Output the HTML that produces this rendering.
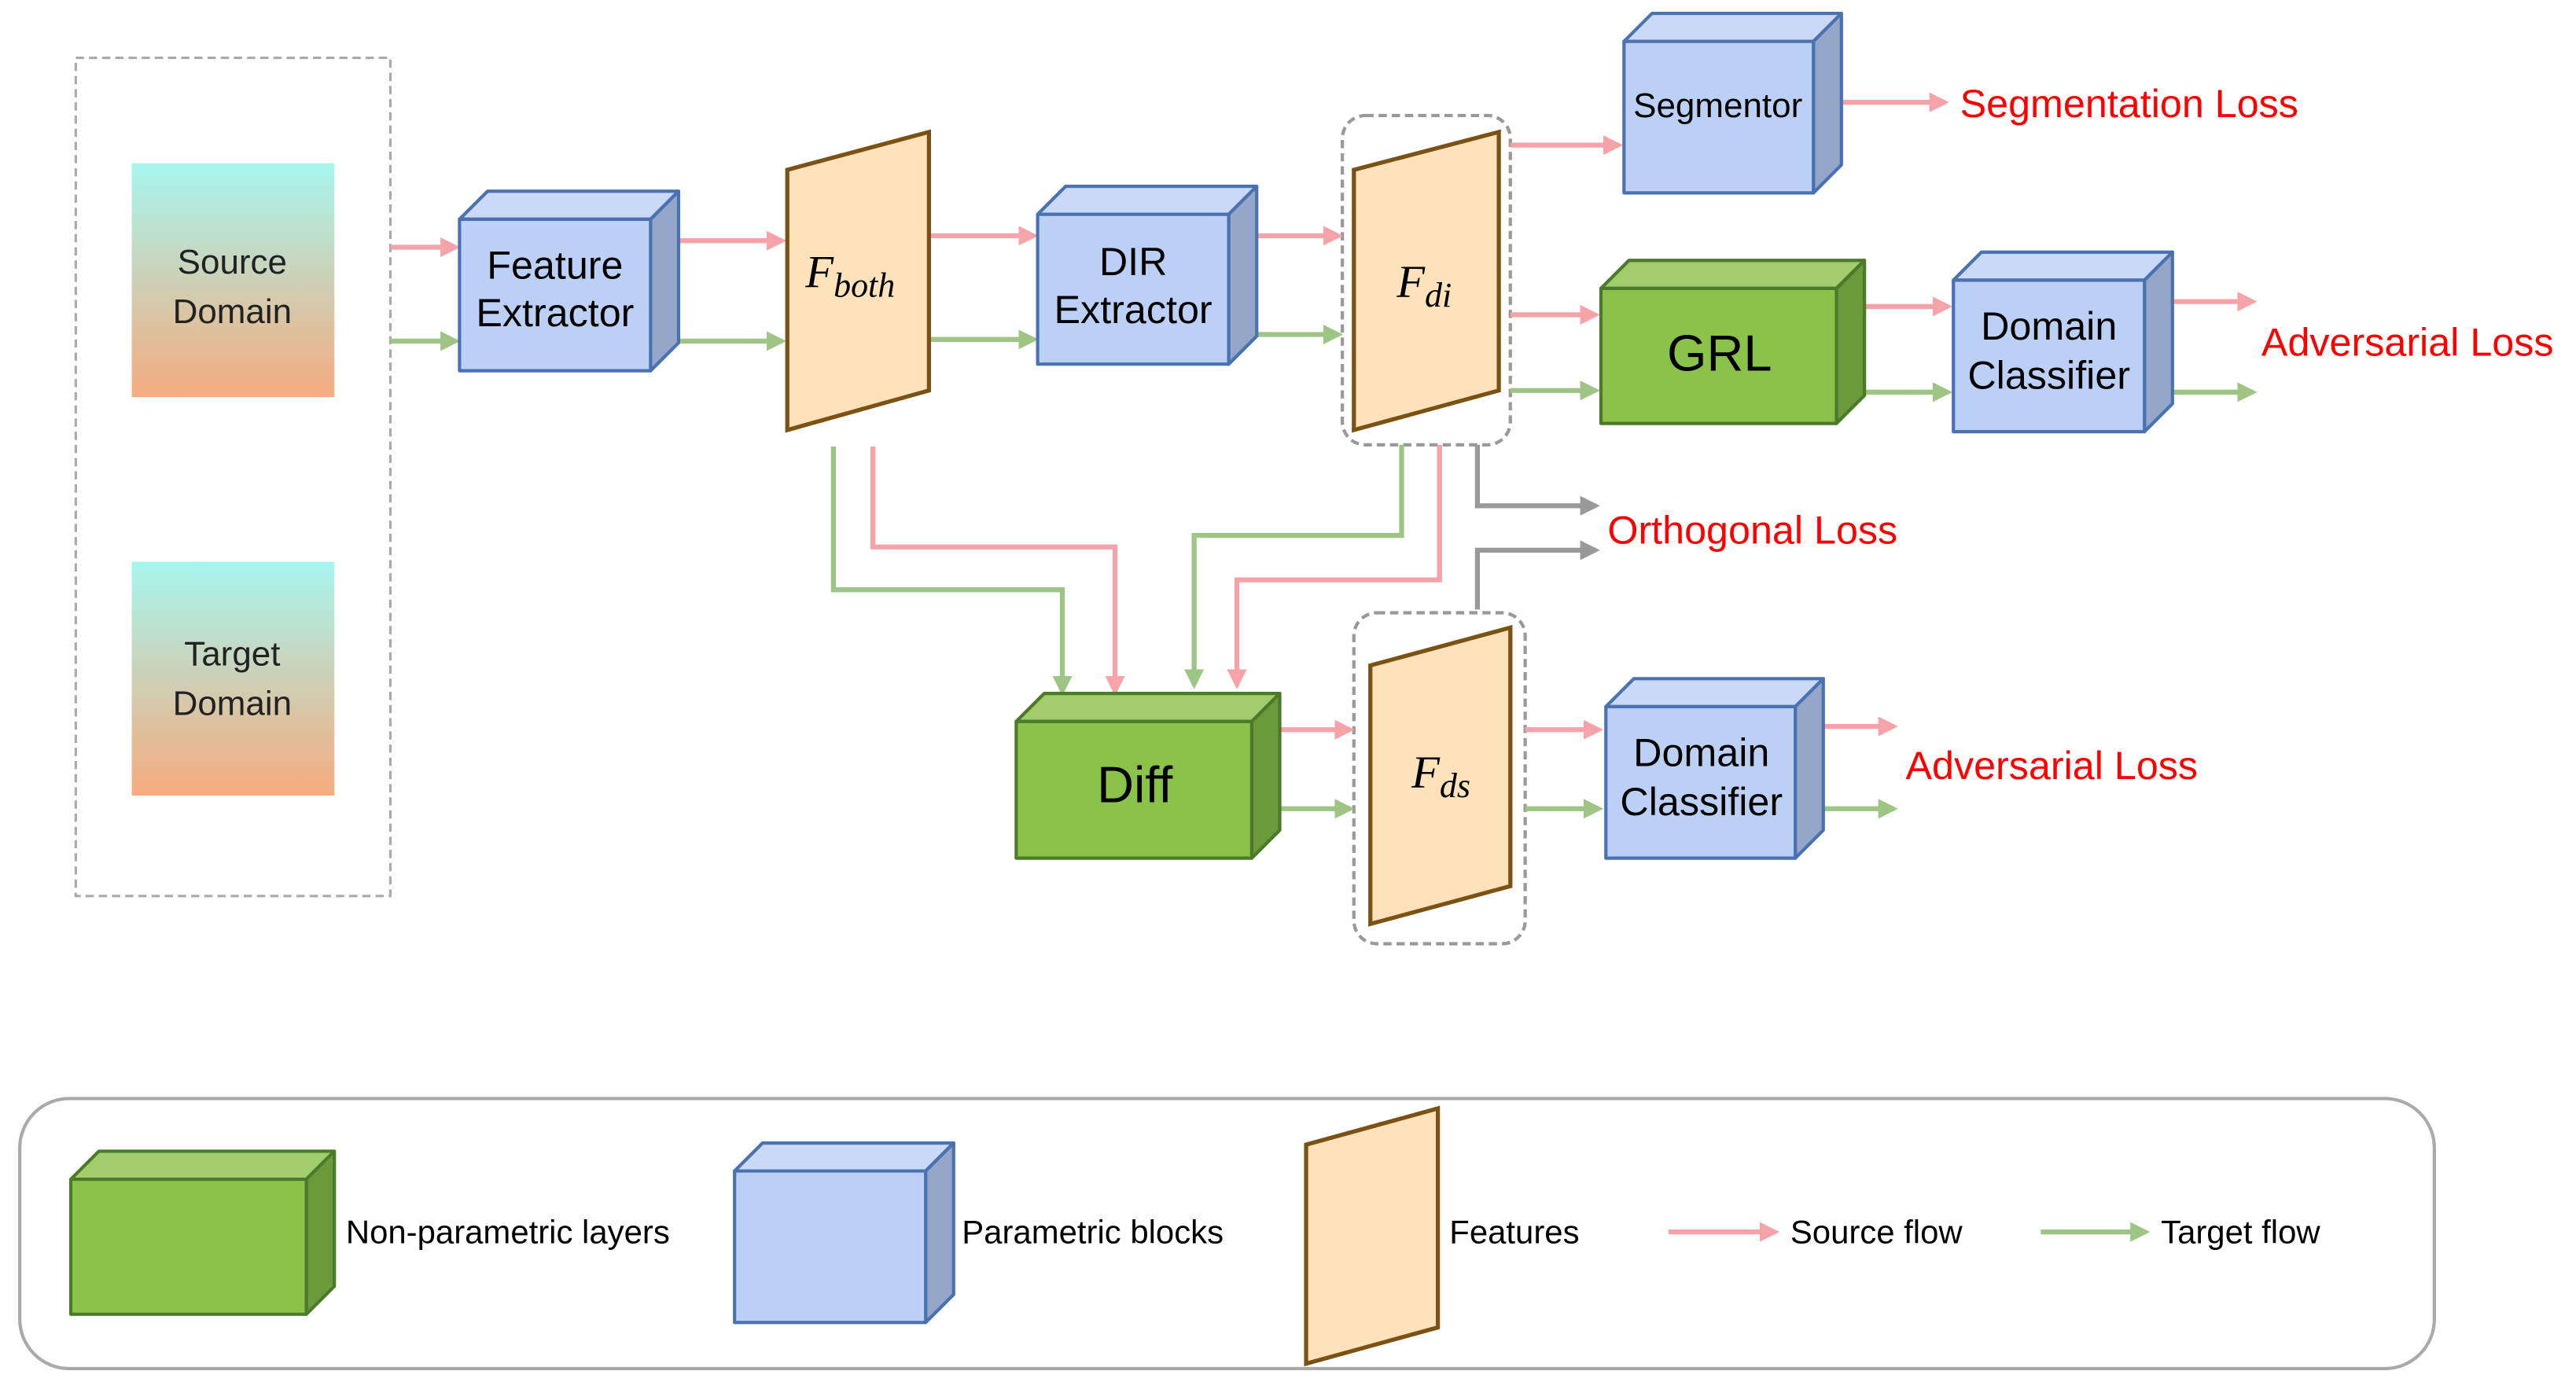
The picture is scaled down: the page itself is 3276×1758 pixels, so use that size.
<!DOCTYPE html>
<html><head><meta charset="utf-8"><style>
html,body{margin:0;padding:0;background:#fff}
svg{display:block}
text{font-family:"Liberation Sans","DejaVu Sans",sans-serif}
.m{font-family:"Liberation Serif",serif;font-style:italic}
</style></head><body>
<svg width="3276" height="1758" viewBox="0 0 1564 839" xmlns="http://www.w3.org/2000/svg">
<defs>
<linearGradient id="g" x1="0" y1="0" x2="0" y2="1"><stop offset="0" stop-color="#a6f6ee"/><stop offset="1" stop-color="#f5ab7e"/></linearGradient>
<marker id="ap" markerWidth="4" markerHeight="4" refX="3.2" refY="2" orient="auto" markerUnits="strokeWidth"><path d="M0,0L4,2L0,4z" fill="#f5a3a8"/></marker>
<marker id="ag" markerWidth="4" markerHeight="4" refX="3.2" refY="2" orient="auto" markerUnits="strokeWidth"><path d="M0,0L4,2L0,4z" fill="#9ec585"/></marker>
<marker id="ay" markerWidth="4" markerHeight="4" refX="3.2" refY="2" orient="auto" markerUnits="strokeWidth"><path d="M0,0L4,2L0,4z" fill="#999"/></marker>
</defs>
<g fill="none" stroke-width="2.5">
<rect x="46" y="35" width="191" height="509" stroke="#aaa" stroke-dasharray="5,3" stroke-width="1.5"/>
<rect x="815" y="70" width="102" height="200" rx="14" stroke="#999" stroke-dasharray="5,3" stroke-width="2"/>
<rect x="822" y="372" width="104" height="201" rx="14" stroke="#999" stroke-dasharray="5,3" stroke-width="2"/>
<rect x="12" y="667" width="1466" height="164" rx="30" stroke="#aaa" stroke-width="2"/>
</g>
<rect x="80" y="99" width="123" height="142" fill="url(#g)"/>
<rect x="80" y="341" width="123" height="142" fill="url(#g)"/>
<text x="141" y="166" font-size="21" text-anchor="middle" fill="#222">Source</text>
<text x="141" y="196" font-size="21" text-anchor="middle" fill="#222">Domain</text>
<text x="141" y="404" font-size="21" text-anchor="middle" fill="#222">Target</text>
<text x="141" y="434" font-size="21" text-anchor="middle" fill="#222">Domain</text>

<!-- arrows -->
<g stroke-width="3" fill="none">
<g stroke="#f5a3a8" marker-end="url(#ap)">
<path d="M237,150H277"/><path d="M412,146H475"/><path d="M564,143H628"/><path d="M763,143H813"/>
<path d="M917,88H983"/><path d="M1118,62H1181"/><path d="M917,191H969"/><path d="M1132,186H1183"/><path d="M1318,183H1368"/>
<path d="M530,271V332H677V420"/><path d="M874,270V352H751V416"/>
<path d="M777,443H820"/><path d="M926,443H971"/><path d="M1107,441H1150"/>
<path d="M1013,748H1078"/>
</g>
<g stroke="#9ec585" marker-end="url(#ag)">
<path d="M237,207H277"/><path d="M412,207H475"/><path d="M564,206H628"/><path d="M763,203H813"/>
<path d="M917,237H969"/><path d="M1132,238H1183"/><path d="M1318,238H1368"/>
<path d="M506,271V358H645V420"/><path d="M851,270V325H725V416"/>
<path d="M777,491H820"/><path d="M926,491H971"/><path d="M1107,491H1150"/>
<path d="M1239,748H1303"/>
</g>
<g stroke="#999" marker-end="url(#ay)">
<path d="M897,270V307H969"/><path d="M897,370V334H969"/>
</g>
</g>

<!-- cubes -->
<g stroke="#4a72b0" stroke-width="2" stroke-linejoin="round">
<path d="M279,133l17,-17h116l-17,17z" fill="#c9d9f7"/><path d="M395,133l17,-17v92l-17,17z" fill="#94a7c8"/><rect x="279" y="133" width="116" height="92" fill="#bcd0f5"/>
<path d="M630,130l17,-17h116l-17,17z" fill="#c9d9f7"/><path d="M746,130l17,-17v91l-17,17z" fill="#94a7c8"/><rect x="630" y="130" width="116" height="91" fill="#bcd0f5"/>
<path d="M986,25l17,-17h115l-17,17z" fill="#c9d9f7"/><path d="M1101,25l17,-17v92l-17,17z" fill="#94a7c8"/><rect x="986" y="25" width="115" height="92" fill="#bcd0f5"/>
<path d="M1186,170l17,-17h116l-17,17z" fill="#c9d9f7"/><path d="M1302,170l17,-17v92l-17,17z" fill="#94a7c8"/><rect x="1186" y="170" width="116" height="92" fill="#bcd0f5"/>
<path d="M975,429l17,-17h115l-17,17z" fill="#c9d9f7"/><path d="M1090,429l17,-17v92l-17,17z" fill="#94a7c8"/><rect x="975" y="429" width="115" height="92" fill="#bcd0f5"/>
<path d="M446,711l17,-17h116l-17,17z" fill="#c9d9f7"/><path d="M562,711l17,-17v92l-17,17z" fill="#94a7c8"/><rect x="446" y="711" width="116" height="92" fill="#bcd0f5"/>
</g>
<g stroke="#4d7a2a" stroke-width="2" stroke-linejoin="round">
<path d="M972,175l17,-17h143l-17,17z" fill="#a2cd6c"/><path d="M1115,175l17,-17v82l-17,17z" fill="#6a9a3a"/><rect x="972" y="175" width="143" height="82" fill="#8bc34a"/>
<path d="M617,438l17,-17h143l-17,17z" fill="#a2cd6c"/><path d="M760,438l17,-17v83l-17,17z" fill="#6a9a3a"/><rect x="617" y="438" width="143" height="83" fill="#8bc34a"/>
<path d="M43,716l17,-17h143l-17,17z" fill="#a2cd6c"/><path d="M186,716l17,-17v82l-17,17z" fill="#6a9a3a"/><rect x="43" y="716" width="143" height="82" fill="#8bc34a"/>
</g>
<!-- features -->
<g fill="#fde2bb" stroke="#7a5214" stroke-width="2.5">
<path d="M478,103L564,80V237L478,261z"/>
<path d="M822,103L910,80V237L822,261z"/>
<path d="M832,404L917,381V538L832,561z"/>
<path d="M793,695L873,673V806L793,828z"/>
</g>

<g font-size="24" fill="#000" text-anchor="middle">
<text x="337" y="169">Feature</text><text x="337" y="198">Extractor</text>
<text x="688" y="167">DIR</text><text x="688" y="196">Extractor</text>
<text x="1043" y="71" font-size="21">Segmentor</text>
<text x="1244" y="206">Domain</text><text x="1244" y="236">Classifier</text>
<text x="1033" y="465">Domain</text><text x="1033" y="495">Classifier</text>
<text x="1044" y="225" font-size="31">GRL</text>
<text x="689" y="487" font-size="31">Diff</text>
</g>
<text x="489" y="174" font-size="28" class="m">F<tspan font-size="21" dy="6">both</tspan></text>
<text x="848" y="180" font-size="28" class="m">F<tspan font-size="21" dy="6">di</tspan></text>
<text x="857" y="478" font-size="28" class="m">F<tspan font-size="21" dy="6">ds</tspan></text>

<g fill="#f00" font-size="24">
<text x="1190" y="71">Segmentation Loss</text>
<text x="1373" y="216">Adversarial Loss</text>
<text x="976" y="330">Orthogonal Loss</text>
<text x="1157" y="473">Adversarial Loss</text>
</g>
<g font-size="20" fill="#000">
<text x="210" y="755">Non-parametric layers</text>
<text x="584" y="755">Parametric blocks</text>
<text x="880" y="755">Features</text>
<text x="1087" y="755">Source flow</text>
<text x="1312" y="755">Target flow</text>
</g>
</svg>
</body></html>
